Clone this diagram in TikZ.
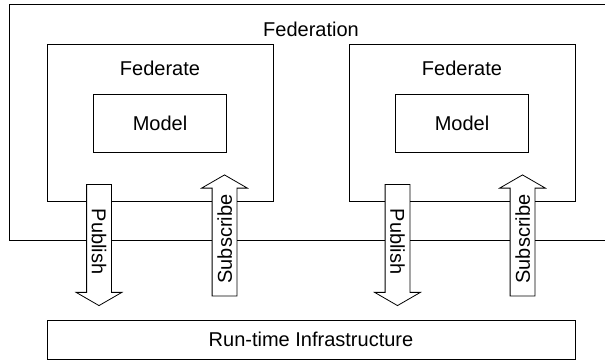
\documentclass[tikz,border=0pt]{standalone}
\usepackage{fontspec}
\setmainfont{Liberation Sans}
\usetikzlibrary{shapes.arrows}
\begin{document}
\begin{tikzpicture}[x=1pt, y=1pt, line width=.8pt, font=\fontsize{20}{24}\selectfont,
    box/.style={draw, rectangle, inner sep=0pt},
    blockarrow/.style={draw, fill=white, single arrow, single arrow head extend=10.5pt,
        single arrow tip angle=120, minimum height=121pt, inner xsep=2pt, inner ysep=4.75pt,
        text height=14.5pt, text depth=0pt}]
\useasboundingbox (0,0) rectangle (605,360);
\draw (605,356)--(9,356)--(9,120)--(605,120);
\node [anchor=base] (fedn) at (311,324) {Federation};
\foreach \i/\x in {1/160,2/462}
{
    \node [box, minimum width=226, minimum height=157] (fed\i) at (\x,237.5) {};
    \node [anchor=base] (fedl\i) at (\x,285) {Federate};
    \node [box, minimum width=133, minimum height=58] (mod\i) at (\x,237) {Model};
}
\foreach \i/\x/\y in {1/99/224.5,2/397.5/522.5}
{
    \node [blockarrow, rotate=-90] (pub\i) at (\x,118.5) {Publish};
    \node [blockarrow, rotate=90] (sub\i) at (\y,121) {Subscribe};
}
\node [box, minimum width=528, minimum height=39] (rti) at (311,20.5) {Run-time Infrastructure};
\end{tikzpicture}
\end{document}
